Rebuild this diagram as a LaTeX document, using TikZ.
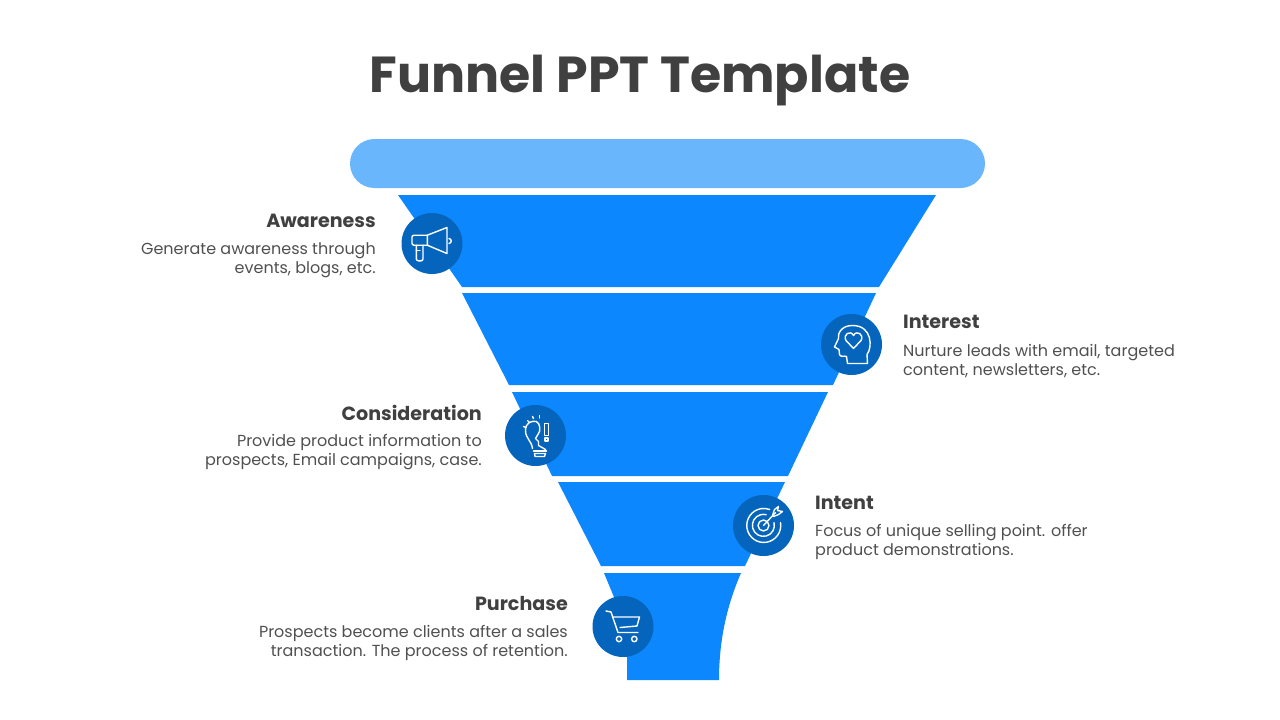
\documentclass[tikz,border=0pt]{standalone}
\usepackage{fontspec}
\setmainfont{Poppins}
\definecolor{funnelblue}{HTML}{0D87FD}
\definecolor{barblue}{HTML}{6AB6FC}
\definecolor{circblue}{HTML}{0565BD}
\definecolor{titlegray}{HTML}{404040}
\definecolor{bodygray}{HTML}{505050}
\tikzstyle{slice} = [fill=funnelblue]
\tikzstyle{circ} = [circle, fill=circblue, minimum size=61pt, inner sep=0pt]
\tikzstyle{head} = [text=titlegray, font=\fontsize{19.1}{23}\selectfont\bfseries, inner sep=0pt]
\tikzstyle{body} = [text=bodygray, font=\fontsize{16}{19}\selectfont, inner sep=0pt]
\tikzstyle{iconline} = [draw=white, line width=1.4pt, line join=round, line cap=round]

\begin{document}
\begin{tikzpicture}[x=1pt, y=-1pt]
    \useasboundingbox (0,0) rectangle (1280,720);

    \node (title) [text=titlegray, font=\fontsize{50.6}{60}\selectfont\bfseries, inner sep=0pt] at (640,80.5) {Funnel PPT Template};

    % funnel
    \fill[barblue, rounded corners=24.5pt] (350,139) rectangle (985,188);
    \fill[slice] (398,195) -- (936,195) -- (879,287) -- (462,287) -- cycle;
    \fill[slice] (462,293) -- (876,293) -- (833,385) -- (509,385) -- cycle;
    \fill[slice] (512,392) -- (828,392) -- (788,476) -- (552,476) -- cycle;
    \fill[slice] (558,482) -- (785,482) -- (745,566) -- (601,566) -- cycle;
    \fill[slice] (604,573) -- (741,573) .. controls (727,605) and (719,640) .. (719,680) -- (627,680) -- (627,650) .. controls (625,620) and (615,600) .. (604,573) -- cycle;

    \node (aware) [circ] at (432,243.5) {};
    \node (inter) [circ] at (851.5,344.5) {};
    \node (consid) [circ] at (535.5,435.5) {};
    \node (intent) [circ] at (763.5,525.5) {};
    \node (purch) [circ] at (623,626.5) {};

    % texts
    \node (awareH) [head, anchor=east] at (376,221) {Awareness};
    \node (awareB) [body, anchor=east, align=right] at (376,260) {Generate awareness through\\events, blogs, etc.};
    \node (interH) [head, anchor=west] at (903,322) {Interest};
    \node (interB) [body, anchor=west, align=left] at (903,361) {Nurture leads with email, targeted\\content, newsletters, etc.};
    \node (considH) [head, anchor=east] at (482,413) {Consideration};
    \node (considB) [body, anchor=east, align=right] at (482,452) {Provide product information to\\prospects, Email campaigns, case.};
    \node (intentH) [head, anchor=west] at (815,503) {Intent};
    \node (intentB) [body, anchor=west, align=left] at (815,542) {Focus of unique selling point. offer\\product demonstrations.};
    \node (purchH) [head, anchor=east] at (568,604) {Purchase};
    \node (purchB) [body, anchor=east, align=right] at (568,643) {Prospects become clients after a sales\\transaction. The process of retention.};

    % megaphone
    \begin{scope}[shift={(aware.center)}, iconline]
        \draw (-4.7,-8.3) -- (15,-16) -- (15,10) -- (-4.7,1.7) -- cycle;
        \draw[rounded corners=2pt] (-4.7,-8.3) -- (-20,-8.3) -- (-20,1.7) -- (-4.7,1.7);
        \draw[rounded corners=2pt] (-15.7,1.7) -- (-15.7,17.3) -- (-9,17.3) -- (-9,1.7);
        \draw (-15.7,7) -- (-12,7);
        \draw (17,-5) .. controls (20,-4.5) and (20,-0.5) .. (17,0);
    \end{scope}

    % head with heart
    \begin{scope}[shift={(inter.center)}, iconline]
        \draw (16,19) -- (15.5,10) .. controls (21,3) and (21,-19) .. (1,-19) .. controls (-11,-19) and (-14,-10) .. (-13,-6) -- (-17,2.5) -- (-12.5,5) -- (-12,10) .. controls (-11,13) and (-7,11) .. (-5,12) -- (-4,19) -- cycle;
        \draw (2,4) -- (-5.5,-4) .. controls (-9,-10) and (-1,-15) .. (2,-9) .. controls (5,-15) and (13,-10) .. (9.5,-4) -- cycle;
    \end{scope}

    % bulb
    \begin{scope}[shift={(consid.center)}, iconline]
        \draw (-3,13) .. controls (-4,5) and (-10,3) .. (-10,-5) .. controls (-10,-13) and (-4,-15) .. (1,-14) .. controls (5,-12) and (5,-4) .. (3,-2) -- (0,3) -- (3,6) -- (3,10) -- (10,14);
        \draw (-2,15.5) -- (11,15.5);
        \draw (-1,18) -- (-0.5,21) -- (9,21) -- (10,18) -- cycle;
        \draw (9,-12) rectangle (13,0);
        \draw (9.5,2.5) rectangle (12.5,5.5);
        \draw (-12,-9) -- (-9.5,-8);
        \draw (-8,-15) -- (-6,-13);
        \draw (-3,-19) -- (-2,-17);
        \draw (4,-20) -- (4,-17.5);
    \end{scope}

    % target
    \begin{scope}[shift={(intent.center)}, iconline]
        \draw (17,-3) arc (-10:290:17);
        \draw (10.5,-3) arc (-15:285:11);
        \draw (0,0) circle (5.5);
        \draw (0,0) -- (12,-13);
        \draw (9,-10) -- (11,-16) -- (15,-19) -- (14,-15) -- (19,-14) -- (15,-11) -- (10,-9);
    \end{scope}

    % cart
    \begin{scope}[shift={(purch.center)}, iconline]
        \draw (-17,-15.5) -- (-12,-14.5) -- (-5,6) -- (15,6);
        \draw (-10.5,-9.5) -- (16.5,-9.5) -- (14,-0.5) -- (-3,1);
        \draw (-4,12.5) circle (2.7);
        \draw (11.3,12.5) circle (2.7);
    \end{scope}
\end{tikzpicture}
\end{document}
